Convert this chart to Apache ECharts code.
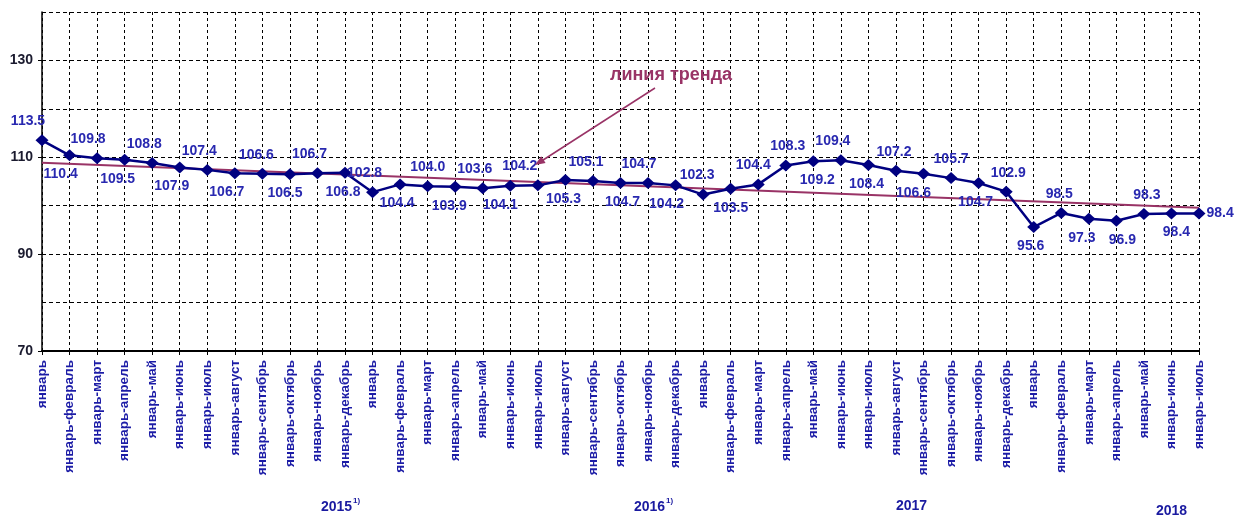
<!DOCTYPE html>
<html>
<head>
<meta charset="utf-8">
<script src="https://cdn.jsdelivr.net/npm/echarts@6/dist/echarts.min.js"></script>
<style>
html,body{margin:0;padding:0;background:#fff;}
#chart{width:1234px;height:519px;}
</style>
</head>
<body>
<div id="chart"></div>
<script>
// ---- data ----
var months = ['январь','январь-февраль','январь-март','январь-апрель','январь-май','январь-июнь',
  'январь-июль','январь-август','январь-сентябрь','январь-октябрь','январь-ноябрь','январь-декабрь'];
var categories = [].concat(months, months, months, months.slice(0, 7));
var values2015 = [113.5,110.4,109.8,109.5,108.8,107.9,107.4,106.7,106.6,106.5,106.7,106.8];
var values2016 = [102.8,104.4,104.0,103.9,103.6,104.1,104.2,105.3,105.1,104.7,104.7,104.2];
var values2017 = [102.3,103.5,104.4,108.3,109.2,109.4,108.4,107.2,106.6,105.7,104.7,102.9];
var values2018 = [95.6,98.5,97.3,96.9,98.3,98.4,98.4];
var values = [].concat(values2015, values2016, values2017, values2018);
var trendStart = 108.85, trendEnd = 99.6;
var yearLabels = ['2015', '2016', '2017', '2018'];
var yearNote = '1)';
var yTickLabels = [70, 90, 110, 130];

// ---- label styling (per point) ----
var T = 'top', B = 'bottom', R = 'right';
var labelPos = [T,B,T,B,T,B,T,B,T,B,T,B,
                T,B,T,B,T,B,T,B,T,B,T,B,
                T,B,T,T,B,T,B,T,B,T,B,T,
                B,T,B,B,T,B,R];
var labelDx = [-14,-9,-9,-7,-8,-8,-8,-8,-6,-5,-8,-2,
               -8,-3,0,-6,-8,-10,-18,-2,-7,2,-9,-9,
               -6,0,-5,2,4,-8,-2,-2,-10,0,-3,2,
               -3,-2,-7,6,3,5,-5];

var seriesData = values.map(function (v, i) {
  return { value: v, label: { position: labelPos[i], offset: [labelDx[i], 0] } };
});

var FONT = '"Liberation Sans", Arial, sans-serif';
var chart = echarts.init(document.getElementById('chart'), null, { renderer: 'canvas' });
var dash = [3, 3];
var yearColor = '#1a1aa0';
chart.setOption({
  animation: false,
  backgroundColor: '#fff',
  grid: { left: 42, right: 35, top: 12, bottom: 168, containLabel: false },
  xAxis: {
    type: 'category',
    data: categories,
    boundaryGap: false,
    axisLine: { lineStyle: { color: '#000', width: 2 } },
    axisTick: { show: true, length: 4, interval: 0, lineStyle: { color: '#000', width: 1 } },
    axisLabel: {
      interval: 0, rotate: 90, margin: 9,
      color: '#1c1ca6', fontFamily: FONT,
      fontWeight: 'bold', fontSize: 13.5
    },
    splitLine: { show: true, lineStyle: { color: '#000', width: 1, type: dash } }
  },
  yAxis: [{
    type: 'value', min: 70, max: 140, interval: 10,
    axisLine: { show: true, lineStyle: { color: '#000', width: 1.5 } },
    axisTick: { show: false },
    axisLabel: {
      margin: 9, color: '#1a1a2e', fontFamily: FONT,
      fontWeight: 'bold', fontSize: 14,
      formatter: function (v) { return yTickLabels.indexOf(v) >= 0 ? String(v) : ''; }
    },
    splitLine: { show: true, lineStyle: { color: '#000', width: 1, type: [4, 3] } }
  }, {
    type: 'value', min: 70, max: 140, position: 'left',
    axisLine: { show: false },
    axisLabel: { show: false },
    splitLine: { show: false },
    axisTick: { show: true, length: 4, customValues: yTickLabels, lineStyle: { color: '#000', width: 1 } }
  }],
  series: [{
    name: 'trend',
    type: 'line',
    data: [],
    silent: true,
    markLine: {
      z: 1,
      silent: true,
      symbol: ['none', 'none'],
      label: { show: false },
      lineStyle: { color: '#993366', width: 2, type: 'solid' },
      data: [[{ coord: [0, trendStart] }, { coord: [categories.length - 1, trendEnd] }]]
    }
  }, {
    name: 'values',
    type: 'line',
    z: 3,
    data: seriesData,
    symbol: 'diamond',
    symbolSize: [13, 12],
    lineStyle: { color: '#000080', width: 2.5 },
    itemStyle: { color: '#000080' },
    label: {
      show: true, distance: 6,
      color: '#2828b0', fontFamily: FONT,
      fontWeight: 'bold', fontSize: 14,
      formatter: function (p) { return p.value.toFixed(1); }
    }
  }],
  graphic: [
    { type: 'text', left: 610, top: 66, z: 10,
      style: { text: 'линия тренда', fill: '#993366', font: 'bold 18px ' + FONT } },
    { type: 'line', z: 10, shape: { x1: 655, y1: 88, x2: 540, y2: 162 },
      style: { stroke: '#993366', lineWidth: 1.5 } },
    { type: 'polygon', z: 10, shape: { points: [[535, 165], [545.6, 163.0], [541.2, 156.2]] },
      style: { fill: '#993366' } },
    { type: 'text', x: 321, y: 500, z: 10,
      style: { text: yearLabels[0], fill: yearColor, font: 'bold 14px ' + FONT } },
    { type: 'text', x: 353, y: 497, z: 10,
      style: { text: yearNote, fill: yearColor, font: 'bold 8px ' + FONT } },
    { type: 'text', x: 634, y: 500, z: 10,
      style: { text: yearLabels[1], fill: yearColor, font: 'bold 14px ' + FONT } },
    { type: 'text', x: 666, y: 497, z: 10,
      style: { text: yearNote, fill: yearColor, font: 'bold 8px ' + FONT } },
    { type: 'text', x: 896, y: 499, z: 10,
      style: { text: yearLabels[2], fill: yearColor, font: 'bold 14px ' + FONT } },
    { type: 'text', x: 1156, y: 504, z: 10,
      style: { text: yearLabels[3], fill: yearColor, font: 'bold 14px ' + FONT } }
  ]
});
</script>
</body>
</html>
